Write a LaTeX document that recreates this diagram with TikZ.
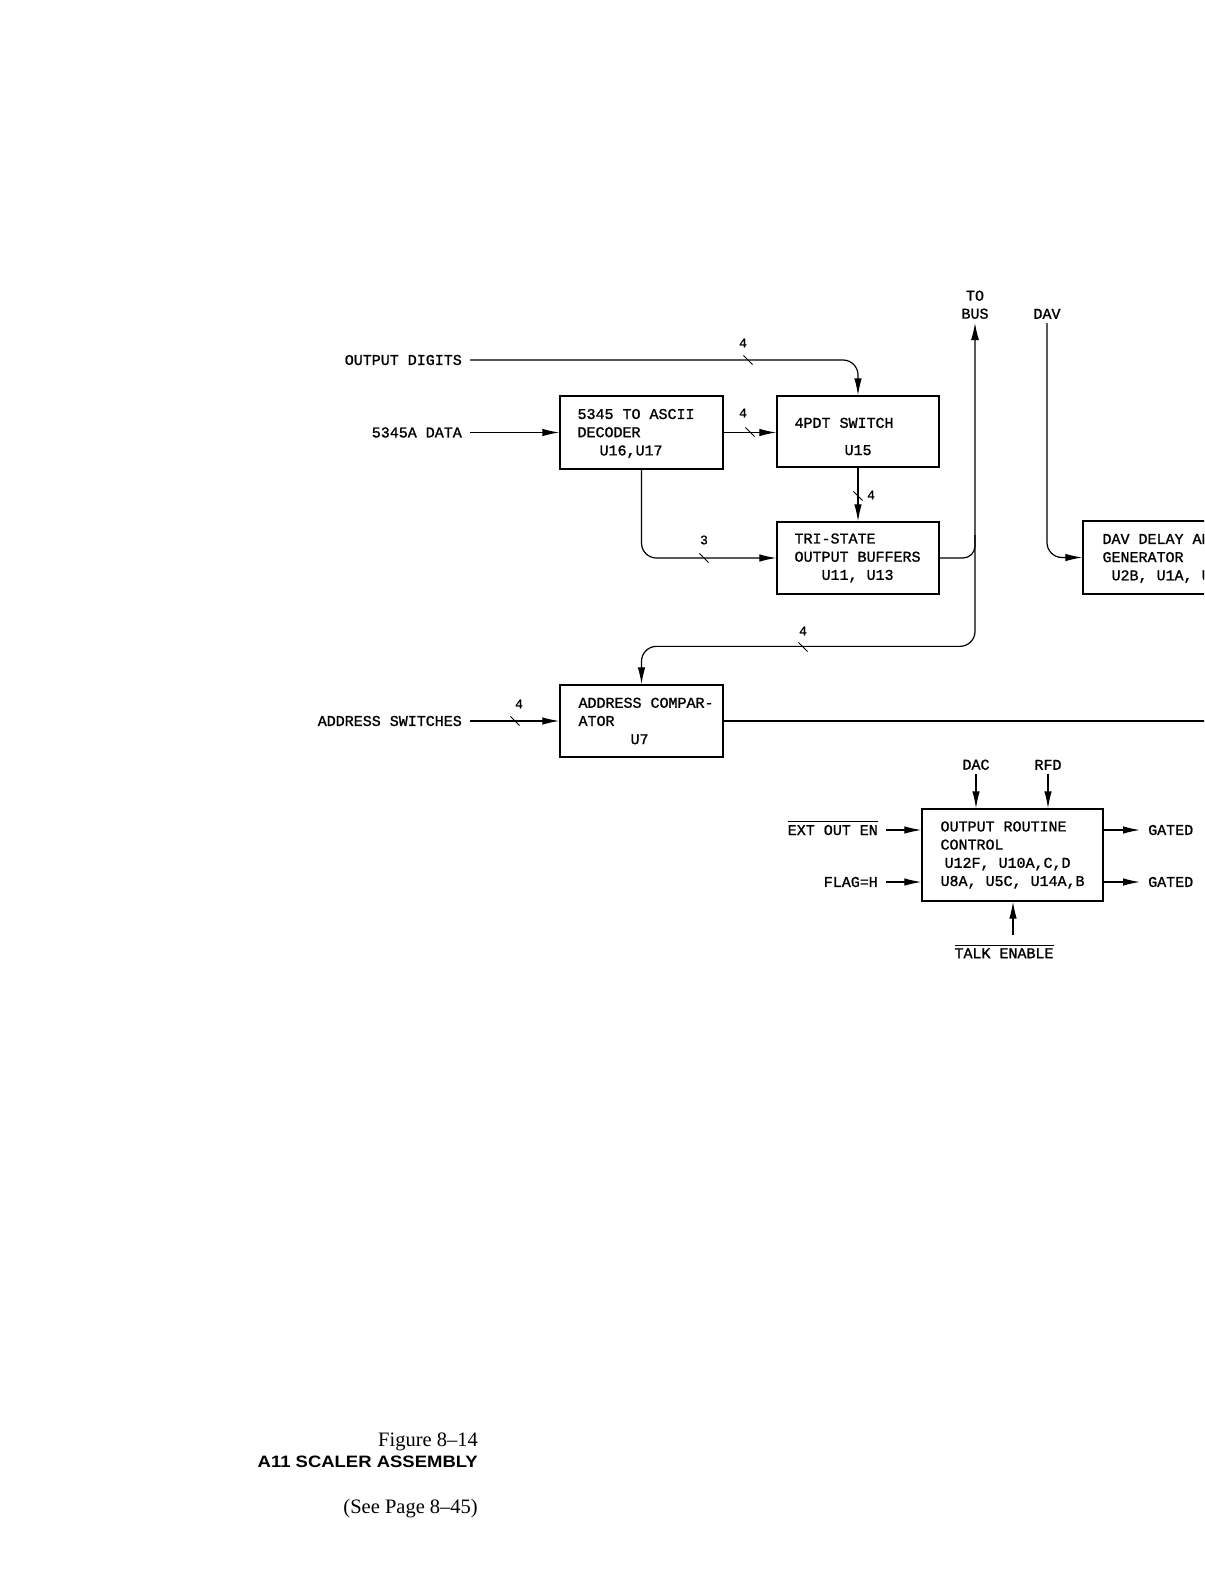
\documentclass[tikz,border=0pt]{standalone}
\usepackage{fontspec}
\setmainfont{Liberation Serif}
\newfontfamily\plotfont[FakeBold=1.2]{Liberation Mono}
\newfontfamily\capfont[FakeStretch=1.12]{Liberation Sans}
\usetikzlibrary{calc, arrows.meta}
\newcommand\barsig[1]{$\overline{\mbox{\rule{0pt}{12pt}#1}}$}

\begin{document}
\begin{tikzpicture}[
    x=1pt, y=-1pt,
    blk/.style={draw, line width=1.3pt, inner sep=0pt},
    txt/.style={font=\plotfont\fontsize{15}{18.2}\selectfont, align=left, inner sep=0pt, anchor=west},
    sig/.style={font=\plotfont\fontsize{15}{18}\selectfont, inner xsep=8pt, inner ysep=2pt},
    ovl/.style={sig, text height=10pt, text depth=0pt},
    num/.style={font=\plotfont\fontsize{13}{15}\selectfont, inner sep=1pt},
    wire/.style={line width=1.2pt},
    arr/.style={wire, -{Latex[length=17pt, width=7.5pt]}},
    arr2/.style={wire, {Latex[length=17pt, width=8pt]}-{Latex[length=17pt, width=7.5pt]}},
    tick/.style={draw, line width=1pt, minimum width=13pt, minimum height=0pt, inner sep=0pt, rotate=-45},
    rc/.style={rounded corners=15pt}
]
    \useasboundingbox (0,0) rectangle (1204,1581);
    \clip (0,0) rectangle (1204,1581);

    % --- input signals ---
    \node[sig, anchor=east] (odig) at (470,360) {OUTPUT DIGITS};
    \node[sig, anchor=east] (sdat) at (470,432.5) {5345A DATA};
    \node[sig, anchor=east] (asw) at (470,721) {ADDRESS SWITCHES};

    % --- blocks ---
    \node[blk, minimum width=163pt, minimum height=73pt] (dec) at (641.5,432.5) {};
    \node[blk, minimum width=162pt, minimum height=71pt] (sw) at (858,431.5) {};
    \node[blk, minimum width=162pt, minimum height=72pt] (buf) at (858,558) {};
    \node[blk, minimum width=163pt, minimum height=72pt] (cmp) at (641.5,721) {};
    \node[blk, minimum width=217pt, minimum height=73pt] (davg) at (1191.5,557.5) {};
    \node[blk, minimum width=181pt, minimum height=92pt] (orc) at (1012.5,855) {};

    % --- block texts ---
    \node[txt] (dect) at ($(dec.west)+(18,1)$) {5345 TO ASCII\\DECODER\\\hspace*{22pt}U16,U17};
    \node[txt] (swt) at ($(sw.west)+(18,5)$) {4PDT SWITCH\\[9pt]\hspace*{50pt}U15};
    \node[txt] (buft) at ($(buf.west)+(18,0)$) {TRI-STATE\\OUTPUT BUFFERS\\\hspace*{27pt}U11, U13};
    \node[txt] (cmpt) at ($(cmp.west)+(19,0)$) {ADDRESS COMPAR-\\ATOR\\\hspace*{52pt}U7};
    \node[txt] (davt) at ($(davg.west)+(20,1)$) {DAV DELAY AN\\GENERATOR\\\hspace*{9pt}U2B, U1A, U};
    \node[txt] (orct) at ($(orc.west)+(19,0)$) {OUTPUT ROUTINE\\CONTROL\\\hspace*{4pt}U12F, U10A,C,D\\U8A, U5C, U14A,B};

    % --- other signals ---
    \node[sig, anchor=south, inner ysep=4pt, align=center] (tobus) at (975,323) {TO\\BUS};
    \node[sig, anchor=south, inner ysep=4pt] (dav) at (1047,323) {DAV};
    \node[sig, anchor=south, inner ysep=4pt] (dac) at (976,774) {DAC};
    \node[sig, anchor=south, inner ysep=4pt] (rfd) at (1048,774) {RFD};
    \node[ovl, anchor=east] (extn) at (886,830) {\barsig{EXT OUT EN}};
    \node[sig, anchor=east] (flag) at (886,882) {FLAG=H};
    \node[sig, anchor=west] (gd1) at (1140,830) {GATED};
    \node[sig, anchor=west] (gd2) at (1140,882) {GATED};
    \node[ovl, anchor=north] (talk) at (1004,946) {\barsig{TALK ENABLE}};

    % --- connections ---
    \draw[arr, rc] (odig.east) -| (sw.north);
    \draw[arr] (sdat.east) -- (dec.west);
    \draw[arr] (dec.east) -- (dec.east -| sw.west);
    \draw[arr] (sw.south) -- (buf.north);
    \draw[arr, rc] (dec.south) |- (buf.west);
    \coordinate (busj) at (975,535);
    \draw[wire, rounded corners=12pt] (buf.east) -| (busj);
    \draw[arr2, rc] (tobus.south) |- ($(cmp.north)+(0,-38)$) -- (cmp.north);
    \draw[arr] (asw.east) -- (cmp.west);
    \coordinate (cmpo) at (1215,721);
    \draw[wire] (cmp.east) -- (cmpo);
    \draw[arr, rc] (dav.south) |- (davg.west);
    \draw[arr] (dac.south) -- (dac.south |- orc.north);
    \draw[arr] (rfd.south) -- (rfd.south |- orc.north);
    \draw[arr] (extn.east) -- (extn.east -| orc.west);
    \draw[arr] (flag.east) -- (flag.east -| orc.west);
    \draw[arr] (gd1.west -| orc.east) -- (gd1.west);
    \draw[arr] (gd2.west -| orc.east) -- (gd2.west);
    \draw[arr] ([xshift=9pt, yshift=11pt]talk.north) -- ([xshift=9pt]talk.north |- orc.south);

    % --- bus widths ---
    \node[tick] (tk1) at (748,360) {};
    \node[num] (w1) at (743,343) {4};
    \node[tick] (tk2) at (750,432) {};
    \node[num] (w2) at (743,413) {4};
    \node[tick] (tk3) at (858,496) {};
    \node[num, anchor=west] (w3) at (866,495) {4};
    \node[tick] (tk4) at (704,558) {};
    \node[num] (w4) at (704,540) {3};
    \node[tick] (tk5) at (803,647) {};
    \node[num] (w5) at (803,631) {4};
    \node[tick] (tk6) at (515,721) {};
    \node[num] (w6) at (519,704) {4};

    % --- caption ---
    \node[font=\fontsize{20.5}{24}\selectfont, anchor=base east, inner sep=0pt] (fig) at (478,1446) {Figure 8–14};
    \node[font=\capfont\bfseries\fontsize{16.5}{20}\selectfont, anchor=base east, inner sep=0pt] (ttl) at (478,1467) {A11 SCALER ASSEMBLY};
    \node[font=\fontsize{20.5}{24}\selectfont, anchor=base east, inner sep=0pt] (see) at (478,1513) {(See Page 8–45)};
\end{tikzpicture}
\end{document}
